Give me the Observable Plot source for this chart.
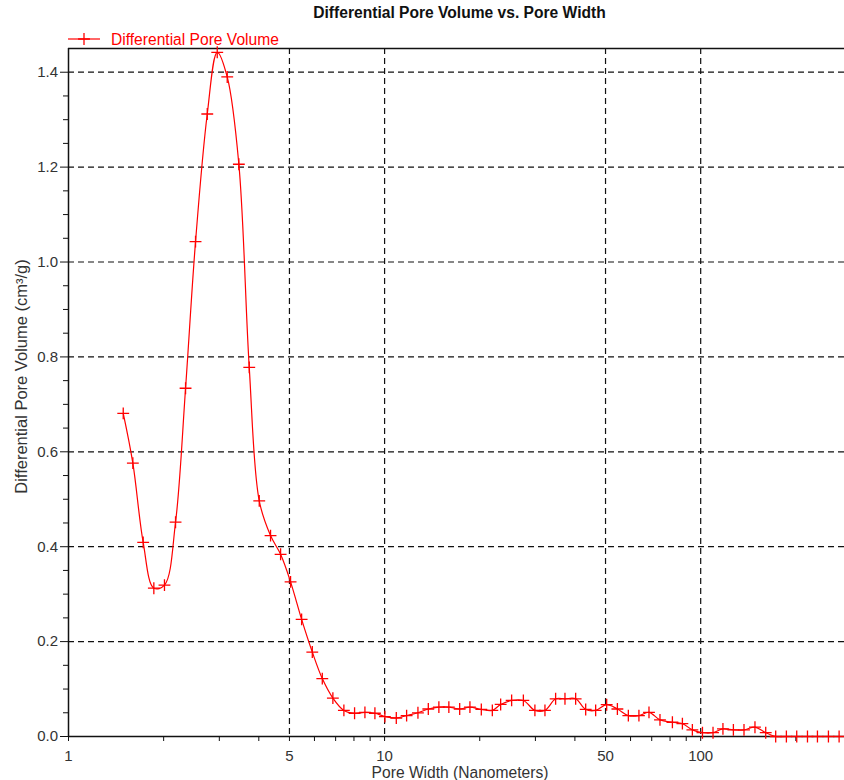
<!DOCTYPE html>
<html><head><meta charset="utf-8">
<script src="https://cdn.jsdelivr.net/npm/d3@7"></script>
<script src="https://cdn.jsdelivr.net/npm/@observablehq/plot@0.6"></script>
<style>
body{margin:0;background:#fff;overflow:hidden;font-family:"Liberation Sans",Arial,sans-serif;}
#wrap{position:relative;width:844px;height:780px;overflow:hidden;}
#title{position:absolute;left:68px;width:783px;top:4px;text-align:center;font-weight:bold;font-size:15.6px;color:#111;line-height:18px;}
#legend{position:absolute;left:0;top:0;}
#chart svg{overflow:hidden;}
</style></head>
<body>
<div id="wrap">
<div id="chart"></div>
<div id="title"></div>
<svg id="legend" width="300" height="48"></svg>
</div>
<script>
// ---- data ----
const poreWidth = [1.490,1.598,1.723,1.862,2.012,2.181,2.346,2.523,2.748,2.955,3.178,3.459,3.731,4.013,4.357,4.688,5.041,5.464,5.906,6.352,6.861,7.434,8.036,8.665,9.319,10.02,10.89,11.74,12.75,13.75,14.85,15.97,17.28,18.62,20.23,21.92,23.29,25.23,27.48,29.89,32.16,34.76,37.21,40.22,43.27,46.53,50.42,54.51,59.04,63.77,68.62,74.34,81.38,87.53,94.12,101.3,109.4,117.6,126.9,137.1,148.5,160.6,172.7,186.7,201.3,217.7,234.1,253.6,274.1];
const poreVolume = [0.681,0.576,0.409,0.3125,0.319,0.4516,0.734,1.043,1.312,1.442,1.390,1.206,0.778,0.4965,0.4234,0.384,0.326,0.247,0.178,0.122,0.081,0.055,0.049,0.051,0.049,0.042,0.039,0.044,0.050,0.058,0.062,0.062,0.058,0.062,0.057,0.055,0.0675,0.076,0.076,0.055,0.055,0.0795,0.0795,0.0795,0.057,0.055,0.067,0.058,0.044,0.044,0.051,0.035,0.030,0.027,0.014,0.008,0.008,0.016,0.014,0.014,0.0196,0.008,0,0,0,0,0,0,0];
const xTicks = [1,5,10,50,100];
const xMinorTicks = [2,3,4,6,7,8,9,20,30,40,60,70,80,90,200,300];
const yTicks = [0,0.2,0.4,0.6,0.8,1.0,1.2,1.4];
const yMinorTicks = [0.05,0.1,0.15,0.25,0.3,0.35,0.45,0.5,0.55,0.65,0.7,0.75,0.85,0.9,0.95,1.05,1.1,1.15,1.25,1.3,1.35];
const xDomain = [1,300];
const yDomain = [0,1.45];
const titleText = "Differential Pore Volume vs. Pore Width";
const seriesName = "Differential Pore Volume";
const xLabel = "Pore Width (Nanometers)";
const yLabel = "Differential Pore Volume (cm³/g)";

const data = poreWidth.map((w,i)=>({w, v: poreVolume[i]}));
const RED = "#ff0000";
const MARKER_R = 3.9;
const dash = {stroke:"#111", strokeOpacity:1, strokeWidth:1.2, strokeDasharray:"6,4"};

const chart = Plot.plot({
  width: 844, height: 780,
  marginTop: 48, marginLeft: 68, marginRight: 0, marginBottom: 44,
  x: {type:"log", domain: xDomain, range: [68, 851]},
  y: {domain: yDomain},
  style: {fontFamily:"Liberation Sans, Arial, sans-serif", fontSize:"15px", color:"#333", background:"white"},
  marks: [
    Plot.gridX(xTicks.filter(d=>d>xDomain[0]), dash),
    Plot.gridY(yTicks.filter(d=>d>yDomain[0]), dash),
    Plot.ruleY([yDomain[1]], {stroke:"#111", strokeWidth:1.5}),
    Plot.ruleY([yDomain[0]], {stroke:"#111", strokeWidth:1.5}),
    Plot.ruleX([xDomain[0]], {stroke:"#111", strokeWidth:1.5}),
    Plot.axisX(xTicks, {tickSize:5, text:null, label:null, stroke:"#111"}),
    Plot.text(xTicks, {x:d=>d, text:d=>String(d), frameAnchor:"bottom", lineAnchor:"top", dy:13.5, fontSize:15, fill:"#333"}),
    Plot.axisX(xMinorTicks, {tickSize:5, text:null, label:null, stroke:"#111"}),
    Plot.axisY(yTicks, {tickSize:8, tickPadding:2.5, tickFormat:".1f", label:null, stroke:"#111", fill:"#333"}),
    Plot.axisY(yMinorTicks, {tickSize:5, text:null, label:null, stroke:"#111"}),
    Plot.line(data, {x:"w", y:"v", curve:"catmull-rom", stroke:RED, strokeWidth:1.2}),
    Plot.dot(data, {x:"w", y:"v", symbol:"plus", r:MARKER_R, stroke:RED, strokeWidth:1.3}),
    Plot.text([xLabel], {frameAnchor:"bottom", textAnchor:"middle", lineAnchor:"middle", dx:3.5, dy:36, fontSize:15.6, fill:"#333"}),
    Plot.text([yLabel], {frameAnchor:"left", textAnchor:"middle", lineAnchor:"middle", rotate:-90, dx:-47, dy:-16, fontSize:16.5, fill:"#333"})
  ]
});
document.getElementById("chart").appendChild(chart);
document.getElementById("title").textContent = titleText;

// legend
const lg = d3.select("#legend");
lg.append("line").attr("x1",68).attr("x2",100).attr("y1",39).attr("y2",39).attr("stroke",RED).attr("stroke-width",1.2);
lg.append("path").attr("transform","translate(84,39)").attr("d",d3.symbol(d3.symbolPlus, Math.PI*MARKER_R*MARKER_R)()).attr("stroke",RED).attr("stroke-width",1.3).attr("fill","none");
lg.append("text").attr("x",111).attr("y",44.5).attr("fill",RED).attr("font-size","15.6px").attr("font-family","Liberation Sans, Arial, sans-serif").text(seriesName);
</script>
</body></html>
